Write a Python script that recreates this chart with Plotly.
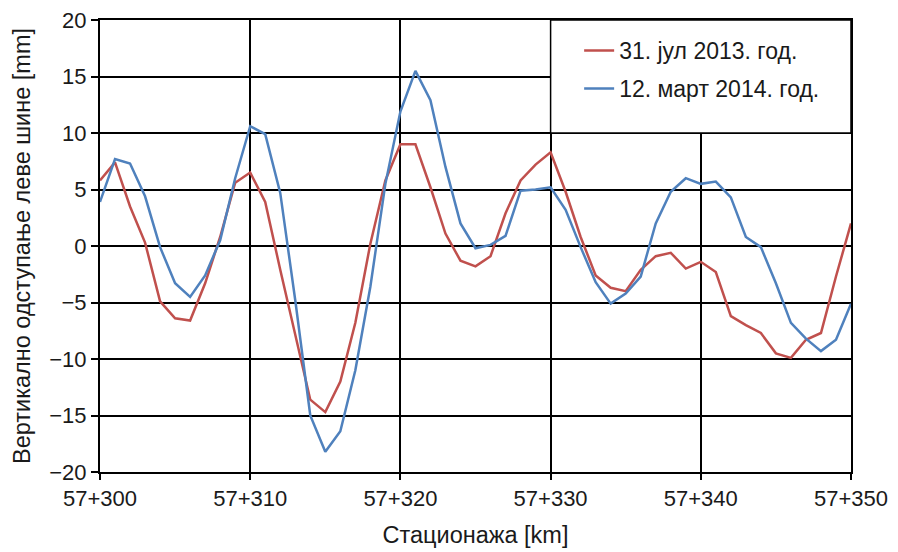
import plotly.graph_objects as go

stations = list(range(300, 351))
jul_2013 = [5.8, 7.4, 3.5, 0.3, -4.9, -6.4, -6.6, -3.3, 0.8, 5.6,
            6.5, 3.9, -2.1, -8.0, -13.6, -14.7, -12.0, -6.8, 0.2, 5.8,
            9.0, 9.0, 5.2, 1.1, -1.3, -1.8, -0.9, 2.9, 5.8, 7.2,
            8.3, 4.8, 0.8, -2.6, -3.7, -4.0, -2.1, -0.9, -0.6, -2.0,
            -1.4, -2.3, -6.2, -7.0, -7.7, -9.5, -9.9, -8.3, -7.7, -2.7,
            2.0]
mart_2014 = [3.9, 7.7, 7.3, 4.4, -0.1, -3.3, -4.5, -2.6, 0.5, 6.0,
             10.6, 9.9, 4.7, -4.8, -15.0, -18.2, -16.4, -11.0, -3.6, 5.5,
             11.9, 15.5, 12.9, 7.0, 2.0, -0.2, 0.1, 0.9, 4.9, 5.0,
             5.2, 3.2, -0.1, -3.2, -5.1, -4.2, -2.7, 2.0, 4.8, 6.0,
             5.5, 5.7, 4.3, 0.8, -0.1, -3.3, -6.8, -8.2, -9.3, -8.3,
             -5.1]
x_tickvals = [300, 310, 320, 330, 340, 350]
x_ticktext = ["57+300", "57+310", "57+320", "57+330", "57+340", "57+350"]
series_names = ["31. јул 2013. год.", "12. март 2014. год."]
colors = ["#C0504D", "#4F81BD"]

FONT = "Liberation Sans, Arial, sans-serif"

fig = go.Figure()
for name, vals, col in zip(series_names, [jul_2013, mart_2014], colors):
    fig.add_trace(go.Scatter(x=stations, y=vals, mode="lines", name=name,
                             legendgroup=name,
                             line=dict(color=col, width=2.5)))

# white legend box covering the top-right grid cell
fig.add_shape(type="rect", xref="x", yref="y", x0=330, x1=350, y0=10, y1=20,
              fillcolor="white", line=dict(color="black", width=1.5), layer="above")

# page body has an 8px margin, so the figure is sized 8px smaller
fig.update_layout(
    width=890, height=544,
    margin=dict(l=92, r=47, t=12, b=80, autoexpand=False),
    paper_bgcolor="white", plot_bgcolor="white",
    font=dict(family=FONT, size=22, color="#1a1a1a"),
    showlegend=True,
    legend=dict(x=0.638, y=0.98, xanchor="left", yanchor="top",
                bgcolor="rgba(0,0,0,0)", borderwidth=0,
                font=dict(family=FONT, size=23, color="#1a1a1a"),
                tracegroupgap=5),
    xaxis=dict(range=[300, 350], tickvals=x_tickvals, ticktext=x_ticktext,
               automargin=False, ticklabeloverflow="allow",
               showgrid=True, gridcolor="black", gridwidth=1.5,
               showline=True, linecolor="black", linewidth=2, mirror=True,
               ticks="outside", ticklen=6, tickcolor="black", tickwidth=1.5,
               tickfont=dict(size=22),
               zeroline=False,
               title=dict(text="Стационажа [km]", font=dict(size=23.5), standoff=16)),
    yaxis=dict(range=[-20, 20], tickvals=list(range(-20, 21, 5)),
               automargin=False, ticklabeloverflow="allow",
               showgrid=True, gridcolor="black", gridwidth=1.5,
               showline=True, linecolor="black", linewidth=2, mirror=True,
               ticks="outside", ticklen=7, tickcolor="black", tickwidth=1.5,
               tickfont=dict(size=22),
               zeroline=False,
               title=dict(text="Вертикално одступање леве шине [mm]",
                          font=dict(size=23.5), standoff=12)),
)

fig.write_html("out.html")
